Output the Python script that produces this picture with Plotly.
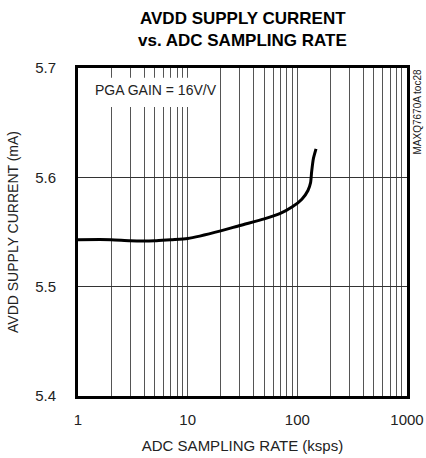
import plotly.graph_objects as go

# sampling rate (ksps) vs AVDD supply current (mA)
rate_ksps = [1, 2, 3, 5, 7, 10, 20, 30, 50, 70, 90, 110, 125, 132, 135, 140, 148]
avdd_ma = [5.543, 5.543, 5.542, 5.542, 5.543, 5.544, 5.551, 5.556, 5.562, 5.567,
           5.573, 5.580, 5.588, 5.595, 5.605, 5.617, 5.626]

x_grid = [m * 10 ** d for d in range(3) for m in range(1, 10)] + [1000]
x_labels = [str(v) if v in (1, 10, 100, 1000) else "" for v in x_grid]
y_ticks = [5.4, 5.5, 5.6, 5.7]

font_main = "Liberation Sans, Arial, sans-serif"

fig = go.Figure()
fig.add_trace(go.Scatter(
    x=rate_ksps, y=avdd_ma,
    mode="lines",
    line=dict(color="black", width=3, shape="spline", smoothing=0.6),
    showlegend=False,
))

# white label box in the top-left corner
fig.add_shape(type="rect", xref="x domain", yref="y domain",
              x0=0, x1=0.43, y0=0.881, y1=0.97,
              fillcolor="white", line=dict(width=0), layer="above")
fig.add_annotation(text="PGA GAIN = 16V/V", xref="x domain", yref="y domain",
                   x=0.046, y=0.933, xanchor="left", yanchor="middle",
                   showarrow=False, font=dict(size=14, color="#222", family=font_main))
fig.add_annotation(text="MAXQ7670A toc28", xref="paper", yref="paper",
                   x=1.0, xshift=10, y=1, xanchor="center", yanchor="top", textangle=-90,
                   showarrow=False, font=dict(size=10, color="#222", family=font_main))

# two-line bold title
fig.add_annotation(text="<b>AVDD SUPPLY CURRENT</b>", xref="paper", yref="paper",
                   x=0.5, y=1, yshift=50, xanchor="center", yanchor="middle",
                   showarrow=False, font=dict(size=17, color="black", family=font_main))
fig.add_annotation(text="<b>vs. ADC SAMPLING RATE</b>", xref="paper", yref="paper",
                   x=0.5, y=1, yshift=28, xanchor="center", yanchor="middle",
                   showarrow=False, font=dict(size=17, color="black", family=font_main))

fig.update_layout(
    width=426, height=458,
    margin=dict(l=78, r=19, t=68, b=62),
    plot_bgcolor="white", paper_bgcolor="white",
    font=dict(family=font_main, size=15, color="#222"),
)
fig.update_xaxes(
    type="log", range=[0, 3], automargin=False,
    tickvals=x_grid, ticktext=x_labels,
    ticks="outside", ticklen=8, tickcolor="rgba(0,0,0,0)",
    showgrid=True, gridcolor="#555", gridwidth=1,
    showline=True, linecolor="black", linewidth=3, mirror=True,
    zeroline=False,
    title=dict(text="ADC SAMPLING RATE (ksps)", standoff=14, font=dict(size=15)),
)
fig.update_yaxes(
    range=[5.4, 5.7], tickvals=y_ticks, ticktext=[f"{v:.1f}" for v in y_ticks],
    ticks="", ticklabelstandoff=16, automargin=False,
    showgrid=True, gridcolor="#333", gridwidth=1,
    showline=True, linecolor="black", linewidth=3, mirror=True,
    zeroline=False,
    title=dict(text="AVDD SUPPLY CURRENT (mA)", standoff=14, font=dict(size=14)),
)

# drop the default page margin so the 426x458 figure fills the window
fig.write_html("out.html", config={"displayModeBar": False},
               post_script="document.body.style.margin='0';")
